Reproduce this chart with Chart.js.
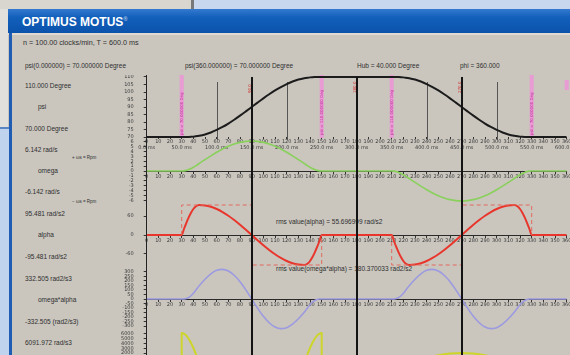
<!DOCTYPE html>
<html><head><meta charset="utf-8">
<script src="https://cdn.jsdelivr.net/npm/chart.js@4.4.1/dist/chart.umd.min.js"></script>
<style>
html,body{margin:0;padding:0}
body{width:570px;height:355px;overflow:hidden;position:relative;background:#cac6be;font-family:"Liberation Sans",Arial,sans-serif;color:#2e2e2e}
.b{position:absolute}
.a{position:absolute;white-space:nowrap;line-height:1;font-size:6.5px}
.s{font-size:4.5px}
</style></head>
<body>
<div class="b" style="left:0;top:0;width:191px;height:9px;background:#d9d6d0"></div>
<div class="b" style="left:191px;top:0;width:3px;height:9px;background:#77787a"></div>
<div class="b" style="left:194px;top:0;width:376px;height:9px;background:#c9d7ee"></div>
<div class="b" style="left:0;top:9px;width:8px;height:120px;background:#e2e0dc"></div>
<div class="b" style="left:0;top:127px;width:9px;height:2px;background:#5b86c4"></div>
<div class="b" style="left:0;top:129px;width:10px;height:226px;background:#bfd3ee"></div>
<div class="b" style="left:8px;top:9px;width:562px;height:24px;background:linear-gradient(#3479cf,#1260bb 35%,#0b52ab)"></div>
<div class="a" style="left:22px;top:16px;font-size:12px;font-weight:bold;color:#fff">OPTIMUS MOTUS<span style="font-size:6px;vertical-align:5px;color:#a9c2e6">®</span></div>
<div class="b" style="left:8px;top:33px;width:562px;height:2px;background:#dedad2"></div>
<div class="b" style="left:9px;top:33px;width:3px;height:322px;background:#1f5db4"></div>

<div class="a" style="left:23px;top:39px;font-size:7.2px">n = 100.00 clocks/min, T = 600.0 ms</div>
<div class="a" style="left:25px;top:63px">psi(0.000000) = 70.000000 Degree</div>
<div class="a" style="left:185px;top:63px">psi(360.000000) = 70.000000 Degree</div>
<div class="a" style="left:357px;top:63px">Hub = 40.000 Degree</div>
<div class="a" style="left:460px;top:63px">phi = 360.000</div>

<div class="a" style="left:25px;top:83px">110.000 Degree</div>
<div class="a" style="left:38px;top:104px">psi</div>
<div class="a" style="left:25px;top:126px">70.000 Degree</div>
<div class="a" style="left:25px;top:147px">6.142 rad/s</div>
<div class="a s" style="left:72px;top:156px">+ ωs = Rpm</div>
<div class="a" style="left:38px;top:168px">omega</div>
<div class="a" style="left:25px;top:189px">-6.142 rad/s</div>
<div class="a s" style="left:72px;top:200px">− ωs = Rpm</div>
<div class="a" style="left:25px;top:211px">95.481 rad/s2</div>
<div class="a" style="left:38px;top:232px">alpha</div>
<div class="a" style="left:25px;top:254px">-95.481 rad/s2</div>
<div class="a" style="left:25px;top:276px">332.505 rad2/s3</div>
<div class="a" style="left:38px;top:297px">omega*alpha</div>
<div class="a" style="left:25px;top:319px">-332.505 (rad2/s3)</div>
<div class="a" style="left:25px;top:340px">6091.972 rad/s3</div>

<div class="a" style="left:276px;top:219px">rms value(alpha) = 55.696999 rad/s2</div>
<div class="a" style="left:276px;top:266px">rms value(omega*alpha) = 180.370033 rad2/s2</div>

<canvas id="c" width="558" height="320" style="position:absolute;left:12px;top:75px"></canvas>

<script>
// ---- data ----
const angles = [0,10,20,30,32,34,36,38,40,42,45,50,55,60,65,70,75,80,85,90,95,100,105,110,115,120,125,130,135,138,140,142,144,146,148,150,160,170,180,190,200,210,212,214,216,218,220,222,225,230,235,240,245,250,255,260,265,270,275,280,285,290,295,300,305,310,315,318,320,322,324,326,328,330,340,350,360];
const psiDeg = [70,70,70, 70,70.00,70.02,70.06,70.13,70.25,70.43, 70.80,71.72,73.03,74.69,76.68,78.97,81.50,84.22,87.08,90,92.92,95.78,98.50,101.03,103.32,105.31,106.98,108.28,109.20, 109.57,109.75,109.87,109.94,109.98,110.00,110, 110,110,110,110,110, 110,110.00,109.98,109.94,109.87,109.75,109.57, 109.20,108.28,106.98,105.31,103.32,101.03,98.50,95.78,92.92,90,87.08,84.22,81.50,78.97,76.68,74.69,73.03,71.72,70.80, 70.43,70.25,70.13,70.06,70.02,70.00,70, 70,70,70];
const omegaRad = [0,0,0, 0,0.03,0.13,0.29,0.51,0.77,1.06, 1.54,2.34,3.11,3.84,4.50,5.06,5.52,5.86,6.07,6.142,6.07,5.86,5.52,5.06,4.50,3.84,3.11,2.34,1.54, 1.06,0.77,0.51,0.29,0.13,0.03,0, 0,0,0,0,0, 0,-0.03,-0.13,-0.29,-0.51,-0.77,-1.06, -1.54,-2.34,-3.11,-3.84,-4.50,-5.06,-5.52,-5.86,-6.07,-6.142,-6.07,-5.86,-5.52,-5.06,-4.50,-3.84,-3.11,-2.34,-1.54, -1.06,-0.77,-0.51,-0.29,-0.13,-0.03,0, 0,0,0];
const alphaRad = [0,0,0, 0,19.9,38.9,56.1,70.9,82.7,90.8, 95.48,94.0,89.7,82.7,73.1,61.4,47.7,32.7,16.6,0,-16.6,-32.7,-47.7,-61.4,-73.1,-82.7,-89.7,-94.0,-95.48, -90.8,-82.7,-70.9,-56.1,-38.9,-19.9,0, 0,0,0,0,0, 0,-19.9,-38.9,-56.1,-70.9,-82.7,-90.8, -95.48,-94.0,-89.7,-82.7,-73.1,-61.4,-47.7,-32.7,-16.6,0,16.6,32.7,47.7,61.4,73.1,82.7,89.7,94.0,95.48, 90.8,82.7,70.9,56.1,38.9,19.9,0, 0,0,0];
const omegaAlpha = [0,0,0, 0,0.7,5.2,16.5,36.0,63.5,96.3, 146.7,219.5,279.1,317.5,328.7,310.9,263.5,191.8,100.8,0,-100.8,-191.8,-263.5,-310.9,-328.7,-317.5,-279.1,-219.5,-146.7, -96.3,-63.5,-36.0,-16.5,-5.2,-0.7,0, 0,0,0,0,0, 0,0.7,5.2,16.5,36.0,63.5,96.3, 146.7,219.5,279.1,317.5,328.7,310.9,263.5,191.8,100.8,0,-100.8,-191.8,-263.5,-310.9,-328.7,-317.5,-279.1,-219.5,-146.7, -96.3,-63.5,-36.0,-16.5,-5.2,-0.7,0, 0,0,0];
const jerkAngles = [0, 30,30,32,34,36,38,40,42, 45,50,55,60,65,70,75,80,85,90,95,100,105,110,115,120,125,130,135, 138,140,142,144,146,148,150,150, 210,210,212,214,216,218,220,222, 225,230,235,240,245,250,255,260,265,270,275,280,285,290,295,300,305,310,315, 318,320,322,324,326,328,330,330, 360];
const jerkRad = [0, 0,6092,5959,5565,4929,4076,3046,1883, 0,-353,-695,-1016,-1306,-1556,-1759,-1909,-2000,-2031,-2000,-1909,-1759,-1556,-1306,-1016,-695,-353,0, 1883,3046,4076,4929,5565,5959,6092,0, 0,-6092,-5959,-5565,-4929,-4076,-3046,-1883, 0,353,695,1016,1306,1556,1759,1909,2000,2031,2000,1909,1759,1556,1306,1016,695,353,0, -1883,-3046,-4076,-4929,-5565,-5959,-6092,0, 0];
const envAngles = [30,30,90,90,150,150,180,210,210,270,270,330,330];
const envAlpha = [0,95.481,95.481,-95.481,-95.481,0,null,0,-95.481,-95.481,95.481,95.481,0];

const panelMid = [90,0,0,0,0];
const panelAmp = [20,6.142,95.481,332.505,6091.972];
const psiTicks = [110,105,100,95,90,85,80,75,70];
const omegaTicks = [6,5,4,3,2,1,0,-1,-2,-3,-4,-5,-6];
const alphaTicks = [60,0,-60];
const oaTicks = [300,250,200,150,100,50,0,-50,-100,-150,-200,-250,-300];
const jerkTicks = [6000,5000,4000,3000,2000,1000,0,-1000,-2000,-3000,-4000,-5000,-6000];
const degTicks = [0,10,20,30,40,50,60,70,80,90,100,110,120,130,140,150,160,170,180,190,200,210,220,230,240,250,260,270,280,290,300,310,320,330,340,350,360];
const timeTicks = [0,30,60,90,120,150,180,210,240,270,300,330,360];
const cycleMs = 600;
const sectionAngles = [90,180,270];
const gridAngles = [60,120,240,300];
const markerAngles = [30,150,210,330];
const markerPsi = [70,110,110,70];

// ---- layout ----
const PANEL_PX = 64, AMP_PX = 30, YW = 30;
const FONT = {size:5, family:'"DejaVu Sans", sans-serif'};
const noPad = s => { s.paddingTop = 0; s.paddingBottom = 0; s.paddingLeft = 0; s.paddingRight = 0; };

function yScale(i, tickVals){
  const half = panelAmp[i] / AMP_PX * PANEL_PX / 2;
  return {axis:'y', type:'linear', position:'left', stack:'panels', stackWeight:1, weight:10 - i,
    min: panelMid[i] - half, max: panelMid[i] + half,
    afterBuildTicks: s => { s.ticks = tickVals.map(v => ({value:v})); },
    afterFit: s => { noPad(s); s.width = YW; },
    ticks:{autoSkip:false, font:FONT, color:'#3a3a3a', padding:10, callback: v => String(v)},
    grid:{drawOnChartArea:false, tickLength:3, color:'#333'},
    border:{color:'#222'}};
}
function xScale(posId, posVal, tickVals, fmt, pad, showBorder, showGrid){
  return {axis:'x', type:'linear', min:0, max:360, position:{[posId]:posVal},
    afterBuildTicks: s => { s.ticks = tickVals.map(v => ({value:v})); },
    afterFit: noPad,
    ticks:{autoSkip:false, maxRotation:0, minRotation:0, font:FONT, color:'#3a3a3a', padding:pad, callback:fmt},
    grid:{display:showGrid, drawOnChartArea:false, tickLength:2, color:'#333'},
    border:{display:showBorder, color:'#2a2a2a'}};
}
const deg = v => String(v);
const ms = v => (v / 360 * cycleMs).toFixed(1) + ' ms';
const pts = (xs, ys) => xs.map((x, i) => ({x, y: ys[i]}));

const overlay = {
  id:'overlay',
  beforeDatasetsDraw(chart){
    const {ctx, scales} = chart; const x = scales.x, yp = scales.yPsi;
    const top = yp.getPixelForValue(110), bot = yp.getPixelForValue(70);
    ctx.save();
    ctx.strokeStyle = '#555'; ctx.lineWidth = 1;
    gridAngles.forEach(a => {
      const px = Math.round(x.getPixelForValue(a)) + 0.5;
      ctx.beginPath(); ctx.moveTo(px, top + 5); ctx.lineTo(px, bot + 3); ctx.stroke();
    });
    markerAngles.forEach((a, i) => {
      const px = x.getPixelForValue(a);
      ctx.fillStyle = 'rgba(236,150,214,0.9)';
      ctx.fillRect(px - 2, top - 3, 4, bot - top + 4);
      ctx.save(); ctx.translate(px + 1.5, bot - 2); ctx.rotate(-Math.PI/2);
      ctx.fillStyle = '#c2309c'; ctx.font = '4px "DejaVu Sans"';
      ctx.fillText('psi = ' + markerPsi[i].toFixed(6) + ' Deg', 0, 0);
      ctx.restore();
    });
    const p360 = x.getPixelForValue(360);
    ctx.fillStyle = 'rgba(236,150,214,0.9)'; ctx.fillRect(p360 - 2, top + 3, 4, 10);
    ctx.restore();
  },
  afterDatasetsDraw(chart){
    const {ctx, scales, chartArea} = chart; const x = scales.x, yp = scales.yPsi;
    const top = yp.getPixelForValue(110);
    ctx.save();
    sectionAngles.forEach(a => {
      const px = Math.round(x.getPixelForValue(a));
      ctx.fillStyle = '#141414'; ctx.fillRect(px - 1, top, 2, chartArea.bottom - top);
      ctx.save(); ctx.translate(px - 1.5, top + 16); ctx.rotate(-Math.PI/2);
      ctx.fillStyle = '#d0302c'; ctx.font = '4px "DejaVu Sans"';
      ctx.fillText(String(a) + '.0', 0, 0); ctx.restore();
    });
    ctx.restore();
  }
};

const common = {pointRadius:0, fill:false, borderJoinStyle:'round'};
new Chart(document.getElementById('c'), {
  type:'line',
  data:{datasets:[
    {...common, data:pts(angles, psiDeg), yAxisID:'yPsi', borderColor:'#1c1c1c', borderWidth:2, cubicInterpolationMode:'monotone'},
    {...common, data:pts(angles, omegaRad), yAxisID:'yOmega', borderColor:'#89d05c', borderWidth:1.6, cubicInterpolationMode:'monotone'},
    {...common, data:pts(envAngles, envAlpha), yAxisID:'yAlpha', borderColor:'#e26a5e', borderWidth:1, borderDash:[4,3], spanGaps:false},
    {...common, data:pts(angles, alphaRad), yAxisID:'yAlpha', borderColor:'#e8362c', borderWidth:2, cubicInterpolationMode:'monotone'},
    {...common, data:pts(angles, omegaAlpha), yAxisID:'yOA', borderColor:'#9c9ae0', borderWidth:1.6, cubicInterpolationMode:'monotone'},
    {...common, data:pts(jerkAngles, jerkRad), yAxisID:'yJerk', borderColor:'#cdd52a', borderWidth:2}
  ]},
  options:{
    responsive:false, animation:false, events:[],
    layout:{autoPadding:false, padding:{left:134.7 - YW, right:3.3, top:0, bottom:0}},
    plugins:{legend:{display:false}, tooltip:{enabled:false}},
    scales:{
      x: xScale('yPsi', 70, degTicks, deg, 0, false, true),
      xTime: xScale('yPsi', 70, timeTicks, ms, 6, false, false),
      xOmega: xScale('yOmega', 0, degTicks, deg, 1, true, true),
      xAlpha: xScale('yAlpha', 0, degTicks, deg, 1, true, true),
      xOA: xScale('yOA', 0, degTicks, deg, 1, true, true),
      yPsi: yScale(0, psiTicks),
      yOmega: yScale(1, omegaTicks),
      yAlpha: yScale(2, alphaTicks),
      yOA: yScale(3, oaTicks),
      yJerk: yScale(4, jerkTicks)
    }
  },
  plugins:[overlay]
});
</script>
</body></html>
